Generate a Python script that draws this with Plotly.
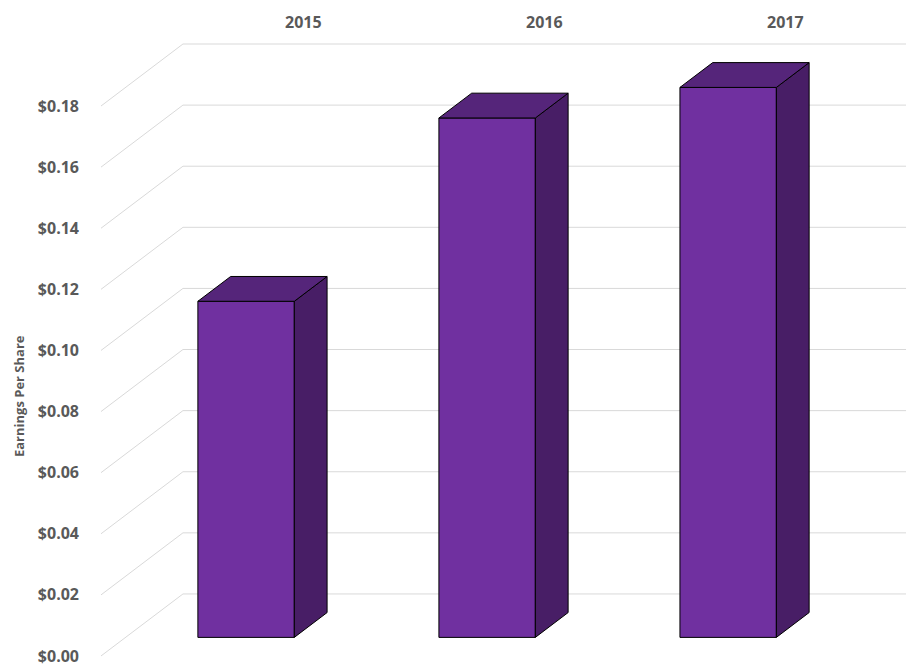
import plotly.graph_objects as go

# chart data
years = ['2015', '2016', '2017']
eps = [0.11, 0.17, 0.18]
tick_vals = [0.00, 0.02, 0.04, 0.06, 0.08, 0.10, 0.12, 0.14, 0.16, 0.18]

# fake 3d geometry (in axis units)
DX = 0.34      # x shift from front plane to back wall
DY = 0.0203    # y shift from front plane to back wall
BAR_W = 0.4
D0, D1 = 0.3, 0.7   # bar depth range, as fraction of full depth

FRONT = '#7030A0'
TOP = '#55257A'
SIDE = '#481E66'
GRID = '#D9D9D9'
TEXT = '#595959'
FONT = 'Open Sans'

fig = go.Figure()

# side walls / back wall grid
shapes = []
n = len(years)
for v in tick_vals:
    shapes.append(dict(type='line', xref='x', yref='y', layer='below',
                       x0=-0.5, y0=v, x1=-0.5 + DX, y1=v + DY,
                       line=dict(color=GRID, width=1)))
    shapes.append(dict(type='line', xref='x', yref='y', layer='below',
                       x0=-0.5 + DX, y0=v + DY, x1=n - 0.5 + DX, y1=v + DY,
                       line=dict(color=GRID, width=1)))

# side and top faces of each bar
for i, v in enumerate(eps):
    xl = i - BAR_W / 2
    xr = i + BAR_W / 2
    b0 = D0 * DY
    b1 = D1 * DY
    fig.add_trace(go.Scatter(
        x=[xr + D0 * DX, xr + D1 * DX, xr + D1 * DX, xr + D0 * DX, xr + D0 * DX],
        y=[b0, b1, b1 + v, b0 + v, b0],
        fill='toself', fillcolor=SIDE, mode='lines',
        line=dict(color='black', width=1),
        hoverinfo='skip', showlegend=False,
    ))
    fig.add_trace(go.Scatter(
        x=[xl + D0 * DX, xr + D0 * DX, xr + D1 * DX, xl + D1 * DX, xl + D0 * DX],
        y=[b0 + v, b0 + v, b1 + v, b1 + v, b0 + v],
        fill='toself', fillcolor=TOP, mode='lines',
        line=dict(color='black', width=1),
        hoverinfo='skip', showlegend=False,
    ))

# front faces
fig.add_trace(go.Bar(
    x=[i + D0 * DX for i in range(n)],
    y=eps,
    base=D0 * DY,
    width=BAR_W,
    marker=dict(color=FRONT, line=dict(color='black', width=1)),
    hovertext=years,
    showlegend=False,
))

annotations = []
for i, yr in enumerate(years):
    annotations.append(dict(
        x=i + DX, y=0.967, xref='x', yref='paper',
        xanchor='center', yanchor='middle',
        text=f'<b>{yr}</b>', showarrow=False,
        font=dict(family=FONT, size=16, color=TEXT),
    ))
annotations.append(dict(
    x=0, y=0.408, xref='paper', yref='paper', xshift=-82,
    xanchor='center', yanchor='middle',
    text='<b>Earnings Per Share</b>', textangle=-90, showarrow=False,
    font=dict(family=FONT, size=13, color=TEXT),
))

fig.update_layout(
    width=907, height=669,
    margin=dict(l=101, r=0, t=0, b=0),
    paper_bgcolor='white', plot_bgcolor='white',
    shapes=shapes,
    annotations=annotations,
    xaxis=dict(range=[-0.5, 2.844], visible=False, fixedrange=True),
    yaxis=dict(
        range=[-0.00426, 0.2147],
        tickvals=tick_vals, tickformat='$.2f',
        tickfont=dict(family=FONT, size=16, color=TEXT, weight='bold'),
        showgrid=False, zeroline=False, showline=False,
        ticks='', ticklabelstandoff=21, fixedrange=True,
    ),
)

# drop the page's default body margin so the chart sits at the window corner
fig.write_html('out.html', config={'displayModeBar': False},
               post_script="document.body.style.margin='0';")
